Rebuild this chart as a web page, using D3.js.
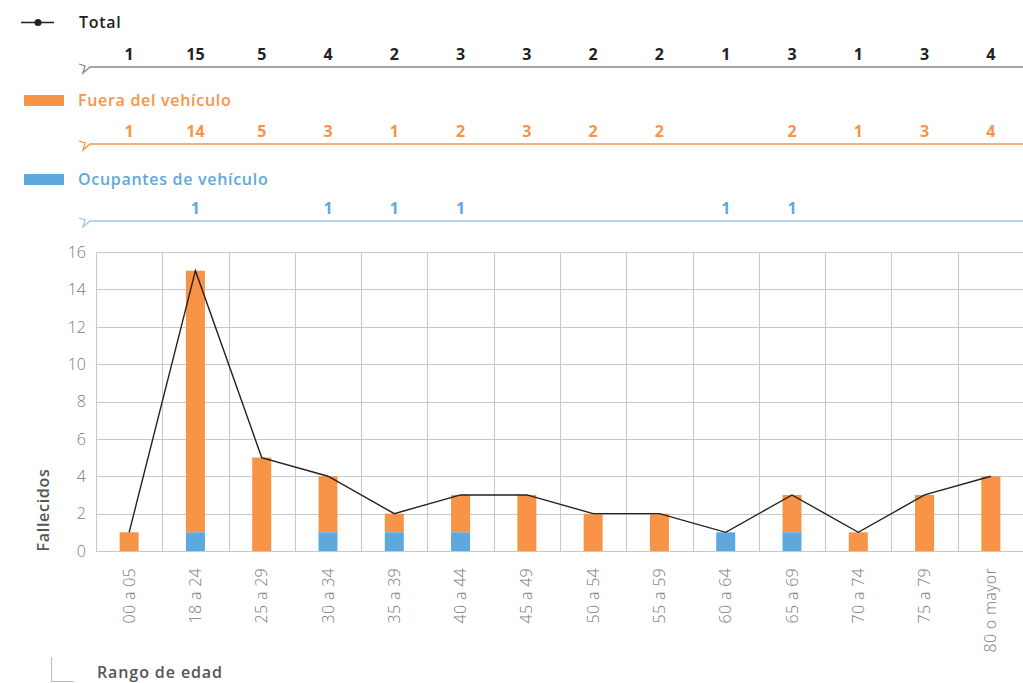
<!DOCTYPE html>
<html><head><meta charset="utf-8">
<script src="https://cdn.jsdelivr.net/npm/d3@7"></script>
<style>body{margin:0;background:#fff}svg{display:block}</style>
</head><body>
<script>
const categories = ["00 a 05","18 a 24","25 a 29","30 a 34","35 a 39","40 a 44","45 a 49","50 a 54","55 a 59","60 a 64","65 a 69","70 a 74","75 a 79","80 o mayor"];
const fuera = [1,14,5,3,1,2,3,2,2,0,2,1,3,4];
const ocupantes = [0,1,0,1,1,1,0,0,0,1,1,0,0,0];
const total = [1,15,5,4,2,3,3,2,2,1,3,1,3,4];
const yTicks = [0,2,4,6,8,10,12,14,16];

const W = 1023, H = 683;
const orange = "#F79447", blue = "#5DA9DD", dark = "#222";
const font = "'Open Sans', 'Noto Sans', sans-serif";
const svg = d3.select("body").append("svg").attr("width", W).attr("height", H).style("font-family", font);

const x = d3.scaleBand().domain(categories).range([96, 1024]).paddingInner(0).paddingOuter(0);
const y = d3.scaleLinear().domain([0,16]).range([551, 252]);
const bw = 19;

// grid
const g = svg.append("g");
g.selectAll(".hg").data(yTicks).join("line")
  .attr("x1", 96).attr("x2", W).attr("y1", d=>Math.round(y(d))+0.5).attr("y2", d=>Math.round(y(d))+0.5)
  .attr("stroke", "#c8c8c8").attr("stroke-width", 1);
const vx = categories.map(c=>x(c)).concat([x(categories[categories.length-1])+x.bandwidth()]);
g.selectAll(".vg").data(vx).join("line")
  .attr("x1", d=>Math.round(d)+0.5).attr("x2", d=>Math.round(d)+0.5).attr("y1", 252).attr("y2", 551)
  .attr("stroke", "#c8c8c8").attr("stroke-width", 1);

// y tick labels
svg.selectAll(".yt").data(yTicks).join("text")
  .attr("x", 86).attr("y", d=>y(d)).attr("dy", "0.36em").attr("text-anchor", "end")
  .attr("font-size", 16).attr("fill", "#7a7a7a").attr("font-weight", 300).text(d=>d);

// bars
const cx = c => x(c) + x.bandwidth()/2;
svg.selectAll(".bo").data(categories).join("rect")
  .attr("x", c=>cx(c)-bw/2).attr("width", bw)
  .attr("y", (c,i)=>y(ocupantes[i]+fuera[i])).attr("height", (c,i)=>y(ocupantes[i])-y(ocupantes[i]+fuera[i]))
  .attr("fill", orange);
svg.selectAll(".bb").data(categories).join("rect")
  .attr("x", c=>cx(c)-bw/2).attr("width", bw)
  .attr("y", (c,i)=>y(ocupantes[i])).attr("height", (c,i)=>y(0)-y(ocupantes[i]))
  .attr("fill", blue);

// total line
svg.append("path").datum(categories)
  .attr("d", d3.line().x(c=>cx(c)).y((c,i)=>y(total[i])))
  .attr("fill", "none").attr("stroke", dark).attr("stroke-width", 1.4);

// x labels
svg.selectAll(".xl").data(categories).join("text")
  .attr("transform", c=>`translate(${cx(c)+5.5},568) rotate(-90)`)
  .attr("text-anchor", "end").attr("font-size", 16).attr("letter-spacing", 0.3)
  .attr("fill", "#7a7a7a").attr("font-weight", 300).text(c=>c);

// axis titles
svg.append("text").attr("transform", "translate(49,510) rotate(-90)").attr("text-anchor", "middle")
  .attr("font-size", 16).attr("font-weight", 600).attr("letter-spacing", 0.7).attr("fill", "#555").text("Fallecidos");
svg.append("path").attr("d", "M51.5,657 V681.5 H74").attr("fill", "none").attr("stroke", "#bbb").attr("stroke-width", 1);
svg.append("text").attr("x", 97).attr("y", 678).attr("font-size", 16).attr("font-weight", 600).attr("letter-spacing", 0.9).attr("fill", "#555").text("Rango de edad");

// legend + value rows
function row(lineY, color, lineColor, vals, showZero) {
  svg.append("path").attr("d", `M79,${lineY-3} L85,${lineY-1} L83,${lineY+6} L90,${lineY} H${W}`)
    .attr("fill", "none").attr("stroke", lineColor).attr("stroke-width", 1.3);
  svg.selectAll(null).data(categories).join("text")
    .attr("x", c=>cx(c)).attr("y", lineY-7).attr("text-anchor", "middle")
    .attr("font-size", 16).attr("font-weight", 700).attr("fill", color)
    .text((c,i)=> (vals[i]===0 && !showZero) ? "" : vals[i]);
}
// Total legend
svg.append("line").attr("x1", 21).attr("x2", 54).attr("y1", 22.5).attr("y2", 22.5).attr("stroke", dark).attr("stroke-width", 1.5);
svg.append("circle").attr("cx", 38).attr("cy", 22.5).attr("r", 3.5).attr("fill", dark);
svg.append("text").attr("x", 79).attr("y", 28).attr("font-size", 16).attr("font-weight", 600).attr("letter-spacing", 0.7).attr("fill", dark).text("Total");
row(67, dark, "#888", total, true);

svg.append("rect").attr("x", 24).attr("y", 95).attr("width", 40).attr("height", 11).attr("fill", orange);
svg.append("text").attr("x", 78).attr("y", 106).attr("font-size", 16).attr("font-weight", 600).attr("letter-spacing", 0.7).attr("fill", orange).text("Fuera del vehículo");
row(144, orange, orange, fuera, false);

svg.append("rect").attr("x", 24).attr("y", 174).attr("width", 40).attr("height", 11).attr("fill", blue);
svg.append("text").attr("x", 78).attr("y", 185).attr("font-size", 16).attr("font-weight", 600).attr("letter-spacing", 0.7).attr("fill", blue).text("Ocupantes de vehículo");
row(221, blue, "#9cc6e6", ocupantes, false);
</script>
</body></html>
